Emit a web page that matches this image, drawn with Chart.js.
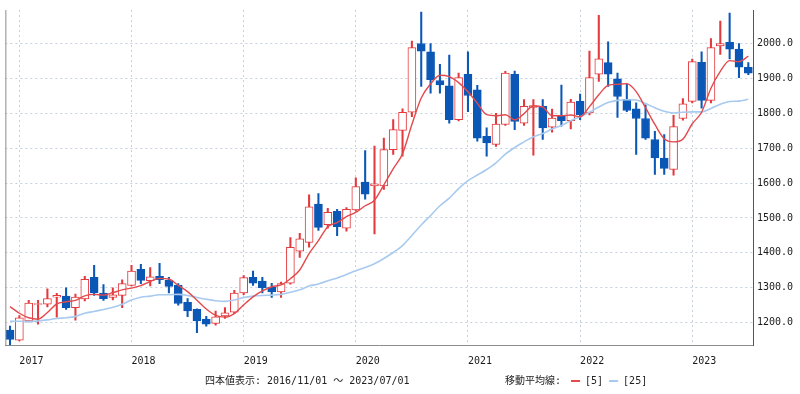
<!DOCTYPE html>
<html>
<head>
<meta charset="utf-8">
<script src="https://cdn.jsdelivr.net/npm/chart.js@4.4.1/dist/chart.umd.min.js"></script>
<style>
  html, body { margin: 0; padding: 0; background: #fff; }
  canvas { display: block; }
</style>
</head>
<body>
<canvas id="chart" width="800" height="394"></canvas>
<script>
// monthly candles, 2016/12 - 2023/07
const months = [
  '2016/12',
  '2017/01', '2017/02', '2017/03', '2017/04', '2017/05', '2017/06', '2017/07', '2017/08', '2017/09', '2017/10', '2017/11', '2017/12',
  '2018/01', '2018/02', '2018/03', '2018/04', '2018/05', '2018/06', '2018/07', '2018/08', '2018/09', '2018/10', '2018/11', '2018/12',
  '2019/01', '2019/02', '2019/03', '2019/04', '2019/05', '2019/06', '2019/07', '2019/08', '2019/09', '2019/10', '2019/11', '2019/12',
  '2020/01', '2020/02', '2020/03', '2020/04', '2020/05', '2020/06', '2020/07', '2020/08', '2020/09', '2020/10', '2020/11', '2020/12',
  '2021/01', '2021/02', '2021/03', '2021/04', '2021/05', '2021/06', '2021/07', '2021/08', '2021/09', '2021/10', '2021/11', '2021/12',
  '2022/01', '2022/02', '2022/03', '2022/04', '2022/05', '2022/06', '2022/07', '2022/08', '2022/09', '2022/10', '2022/11', '2022/12',
  '2023/01', '2023/02', '2023/03', '2023/04', '2023/05', '2023/06', '2023/07'
];

const opens = [
  1179, 1150, 1205, 1252, 1253, 1273, 1276, 1243, 1268, 1330,
  1285, 1272, 1278, 1307, 1353, 1320, 1333, 1321, 1307, 1258,
  1238, 1210, 1198, 1219, 1230, 1285, 1330, 1319, 1302, 1288,
  1313, 1405, 1430, 1540, 1481, 1519, 1471, 1523, 1603, 1592,
  1592, 1696, 1751, 1803, 2000, 1976, 1894, 1879, 1782, 1912,
  1867, 1734, 1711, 1768, 1912, 1772, 1817, 1820, 1760, 1791,
  1779, 1834, 1801, 1912, 1945, 1899, 1840, 1813, 1785, 1725,
  1672, 1639, 1785, 1834, 1946, 1837, 1993, 2003, 1984, 1932
];
const highs = [
  1190, 1220, 1264, 1264, 1297, 1284, 1300, 1282, 1333, 1364,
  1309, 1300, 1323, 1364, 1367, 1358, 1370, 1330, 1312, 1269,
  1240, 1218, 1233, 1243, 1293, 1335, 1348, 1330, 1313, 1316,
  1444, 1456, 1566, 1570, 1528, 1525, 1530, 1615, 1693, 1706,
  1729, 1782, 1813, 2007, 2090, 2000, 1940, 1967, 1915, 1976,
  1880, 1758, 1800, 1920, 1921, 1839, 1839, 1839, 1812, 1881,
  1840, 1855, 1978, 2081, 2005, 1915, 1883, 1830, 1824, 1748,
  1739, 1794, 1842, 1955, 1976, 2014, 2064, 2087, 2000, 1945
];
const lows = [
  1129, 1148, 1202, 1196, 1245, 1216, 1238, 1207, 1262, 1278,
  1264, 1265, 1243, 1305, 1312, 1305, 1312, 1285, 1250, 1217,
  1171, 1190, 1193, 1212, 1226, 1280, 1307, 1285, 1272, 1272,
  1310, 1387, 1416, 1464, 1471, 1449, 1462, 1520, 1554, 1454,
  1582, 1682, 1677, 1790, 1877, 1858, 1858, 1772, 1778, 1805,
  1720, 1677, 1705, 1765, 1753, 1765, 1680, 1725, 1746, 1763,
  1755, 1782, 1795, 1891, 1877, 1788, 1805, 1682, 1725, 1625,
  1625, 1623, 1780, 1830, 1815, 1830, 1969, 1956, 1902, 1911
];
const closes = [
  1152, 1214, 1256, 1255, 1269, 1278, 1243, 1273, 1324, 1285,
  1269, 1280, 1312, 1348, 1321, 1331, 1323, 1304, 1255, 1234,
  1205, 1196, 1217, 1228, 1285, 1329, 1313, 1300, 1288, 1312,
  1416, 1440, 1532, 1473, 1516, 1475, 1525, 1590, 1568, 1598,
  1696, 1753, 1803, 1988, 1978, 1896, 1881, 1782, 1902, 1851,
  1729, 1715, 1769, 1915, 1777, 1820, 1822, 1758, 1786, 1779,
  1832, 1796, 1902, 1956, 1912, 1848, 1808, 1785, 1729, 1672,
  1642, 1762, 1827, 1948, 1837, 1988, 2000, 1984, 1932, 1915
];

// moving averages
const ma5 = [
  1246, 1227, 1214, 1210, 1229, 1254, 1260, 1264, 1277, 1281,
  1279, 1286, 1294, 1299, 1306, 1318, 1327, 1325, 1307, 1289,
  1264, 1239, 1221, 1216, 1226, 1251, 1274, 1291, 1303, 1308,
  1326, 1351, 1398, 1435, 1475, 1487, 1504, 1516, 1535, 1551,
  1595, 1641, 1684, 1768, 1844, 1884, 1909, 1905, 1888, 1862,
  1829, 1796, 1793, 1796, 1781, 1799, 1821, 1818, 1793, 1793,
  1795, 1790, 1819, 1853, 1880, 1883, 1885, 1862, 1816, 1768,
  1727, 1718, 1726, 1770, 1803, 1872, 1920, 1951, 1948, 1964
];
const ma25 = [
  1204, 1204, 1203, 1205, 1208, 1212, 1214, 1218, 1227, 1232,
  1238, 1244, 1253, 1265, 1273, 1276, 1280, 1280, 1281, 1278,
  1272, 1267, 1263, 1261, 1265, 1272, 1276, 1278, 1279, 1281,
  1287, 1294, 1305, 1311, 1320, 1328, 1338, 1349, 1358, 1369,
  1384, 1401, 1421, 1450, 1480, 1507, 1535, 1557, 1584, 1607,
  1623, 1639, 1658, 1683, 1702, 1718, 1733, 1742, 1755, 1765,
  1779, 1790, 1803, 1818, 1831, 1837, 1839, 1838, 1828, 1816,
  1806, 1801, 1803, 1804, 1804, 1814, 1826, 1834, 1835, 1840
];

const periodText = '四本値表示: 2016/11/01 〜 2023/07/01';
const maTitle = '移動平均線: ';
const maLabels = ['[5]', '[25]'];

const UP = '#e3393d';
const DOWN = '#0b57b6';
const MA5_COLOR = '#e24a4d';
const MA25_COLOR = '#a8caee';
const GRID = '#c6d0dc';
const MONO = '"DejaVu Sans Mono", "Noto Sans CJK JP", monospace';

const rising = closes.map((c, i) => c >= opens[i]);
const candleColor = rising.map(up => up ? UP : DOWN);
const isJanuary = i => months[i] && months[i].endsWith('/01');

// left frame line + footer texts
const frameAndFooter = {
  id: 'frameAndFooter',
  afterDraw(chart) {
    const { ctx, chartArea } = chart;
    ctx.save();
    ctx.strokeStyle = '#8c8c8c';
    ctx.lineWidth = 1;
    ctx.beginPath();
    ctx.moveTo(chartArea.left + 0.5, chartArea.top);
    ctx.lineTo(chartArea.left + 0.5, chartArea.bottom);
    ctx.stroke();

    ctx.font = '10px ' + MONO;
    ctx.fillStyle = '#222';
    ctx.textBaseline = 'middle';
    ctx.textAlign = 'left';
    const y = 381;
    ctx.fillText(periodText, 205, y);

    let x = 505;
    ctx.fillText(maTitle, x, y);
    x += ctx.measureText(maTitle).width + 4;
    [[MA5_COLOR, maLabels[0]], [MA25_COLOR, maLabels[1]]].forEach(([color, label]) => {
      ctx.strokeStyle = color;
      ctx.lineWidth = 2;
      ctx.beginPath();
      ctx.moveTo(x, y);
      ctx.lineTo(x + 9, y);
      ctx.stroke();
      x += 14;
      ctx.fillText(label, x, y);
      x += ctx.measureText(label).width + 6;
    });
    ctx.restore();
  }
};

new Chart(document.getElementById('chart'), {
  data: {
    labels: months,
    datasets: [
      {
        type: 'line',
        label: 'MA5',
        data: ma5,
        borderColor: MA5_COLOR,
        borderWidth: 1.4,
        pointRadius: 0,
        cubicInterpolationMode: 'monotone',
        order: 0
      },
      {
        type: 'line',
        label: 'MA25',
        data: ma25,
        borderColor: MA25_COLOR,
        borderWidth: 1.6,
        pointRadius: 0,
        cubicInterpolationMode: 'monotone',
        order: 1
      },
      {
        type: 'bar',
        label: 'body',
        data: opens.map((o, i) => [o, closes[i]]),
        backgroundColor: rising.map(up => up ? '#ffffff' : DOWN),
        borderColor: candleColor,
        borderWidth: 1,
        borderSkipped: false,
        barThickness: 8,
        grouped: false,
        order: 2
      },
      {
        type: 'bar',
        label: 'wick',
        data: lows.map((l, i) => [l, highs[i]]),
        backgroundColor: candleColor,
        borderWidth: 0,
        barThickness: 1.4,
        grouped: false,
        order: 3
      }
    ]
  },
  options: {
    responsive: false,
    animation: false,
    devicePixelRatio: 1,
    layout: { padding: { left: 4, top: 8, right: 0, bottom: 0 } },
    plugins: {
      legend: { display: false },
      tooltip: { enabled: false }
    },
    scales: {
      x: {
        type: 'category',
        offset: true,
        grid: {
          offset: false,
          drawTicks: false,
          color: ctx => isJanuary(ctx.index) ? GRID : 'rgba(0,0,0,0)'
        },
        border: { display: true, color: '#8c8c8c', dash: [2, 3] },
        ticks: {
          autoSkip: false,
          maxRotation: 0,
          align: 'start',
          padding: 10,
          color: '#1a1a1a',
          font: { family: MONO, size: 10 },
          callback: (value, index) => isJanuary(index) ? months[index].slice(0, 4) : ''
        },
        afterFit: axis => { axis.height = 49; }
      },
      y: {
        position: 'right',
        min: 1136,
        max: 2096,
        afterBuildTicks: axis => { axis.ticks = axis.ticks.filter(t => t.value % 100 === 0); },
        grid: { color: GRID, drawTicks: false },
        border: { display: true, color: '#555', dash: [2, 3] },
        ticks: {
          stepSize: 100,
          padding: 4,
          color: '#1a1a1a',
          font: { family: MONO, size: 10 },
          callback: v => v.toFixed(1)
        },
        afterFit: axis => { axis.width = 47; }
      }
    }
  },
  plugins: [frameAndFooter]
});
</script>
</body>
</html>
